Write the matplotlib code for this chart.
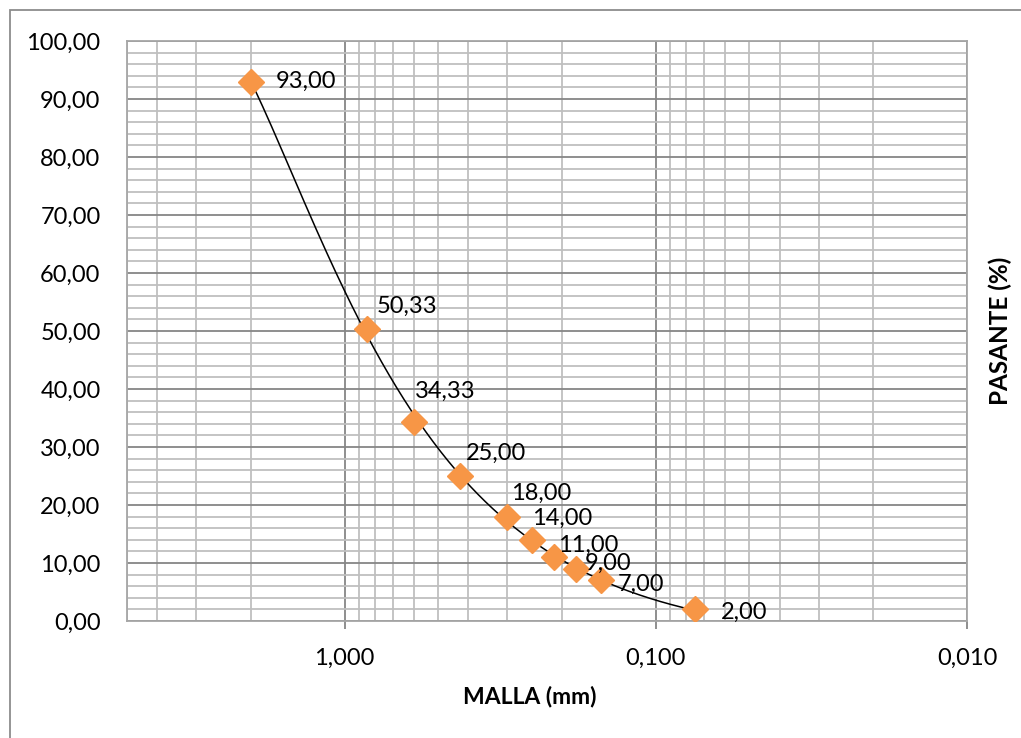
import numpy as np
import matplotlib.pyplot as plt
from matplotlib.ticker import FuncFormatter, LogLocator, MultipleLocator
from matplotlib.patches import Rectangle

# datos de la curva granulometrica
malla_mm = [2.00, 0.85, 0.60, 0.425, 0.30, 0.25, 0.212, 0.18, 0.15, 0.075]
pasante = [93.00, 50.33, 34.33, 25.00, 18.00, 14.00, 11.00, 9.00, 7.00, 2.00]
etiquetas = ['93,00', '50,33', '34,33', '25,00', '18,00', '14,00',
             '11,00', '9,00', '7,00', '2,00']

# desplazamiento de cada etiqueta (px)
desp_x = [25, 10, 1, 6, 4, 0, 4, 8, 17, 26]
desp_y = [0, 23, 31, 23, 23, 21, 12, 5, -4, -3]

plt.rcParams['font.family'] = ['Lato', 'DejaVu Sans']

fig = plt.figure(figsize=(10.21, 7.38), dpi=100)
W, H = 1021, 738
ax = fig.add_axes([127 / W, 1 - 621 / H, (967 - 127) / W, (621 - 41) / H])

# borde del area del grafico
fig.patches.append(Rectangle((10 / W, -0.1), 1.2, 1 - 10 / H + 0.1,
                             transform=fig.transFigure, fill=False,
                             edgecolor='#8c8c8c', linewidth=1.3))

# linea de tendencia polinomica (orden 2), como en Excel
coef = np.polyfit(malla_mm, pasante, 2)
xt = np.logspace(np.log10(min(malla_mm)), np.log10(max(malla_mm)), 300)
ax.plot(xt, np.polyval(coef, xt), color='black', linewidth=1.1, zorder=3)

ax.plot(malla_mm, pasante, linestyle='none', marker='D', markersize=13.5,
        color='#F79646', zorder=4)

for x, y, lab, dx, dy in zip(malla_mm, pasante, etiquetas, desp_x, desp_y):
    ax.annotate(lab, (x, y), xytext=(dx * 0.72, dy * 0.72), textcoords='offset points',
                ha='left', va='center', fontsize=17, color='black', zorder=5)

ax.set_xscale('log')
ax.set_xlim(5, 0.01)
ax.set_ylim(0, 100)

ax.xaxis.set_major_locator(LogLocator(base=10, numticks=10))
ax.xaxis.set_minor_locator(LogLocator(base=10, subs=np.arange(2, 10), numticks=20))
ax.yaxis.set_major_locator(MultipleLocator(10))
ax.yaxis.set_minor_locator(MultipleLocator(2))

ax.xaxis.set_major_formatter(FuncFormatter(lambda v, p: f"{v:.3f}".replace('.', ',')))
ax.xaxis.set_minor_formatter(FuncFormatter(lambda v, p: ''))
ax.yaxis.set_major_formatter(FuncFormatter(lambda v, p: f"{v:.2f}".replace('.', ',')))

ax.grid(True, which='major', color='#868686', linewidth=1.3)
ax.grid(True, which='minor', color='#bfbfbf', linewidth=1.3)
ax.set_axisbelow(True)

ax.tick_params(axis='x', which='major', length=6, width=1.3, color='#868686',
               labelsize=17, pad=13)
ax.tick_params(axis='x', which='minor', length=0)
ax.tick_params(axis='y', which='both', length=0, labelsize=17, pad=19)

for lado in ['left', 'bottom', 'right', 'top']:
    ax.spines[lado].set_color('#a6a6a6')
    ax.spines[lado].set_linewidth(1.3)

ax.set_xlabel('MALLA (mm)', fontsize=16.5, fontweight='bold')
ax.xaxis.set_label_coords((530 - 127) / (967 - 127), -(686 - 621) / (621 - 41))
ax.set_ylabel('PASANTE (%)', fontsize=17.5, fontweight='bold')
ax.yaxis.set_label_coords((1012 - 127) / (967 - 127), 0.5)

plt.savefig('out.png', dpi=100)
